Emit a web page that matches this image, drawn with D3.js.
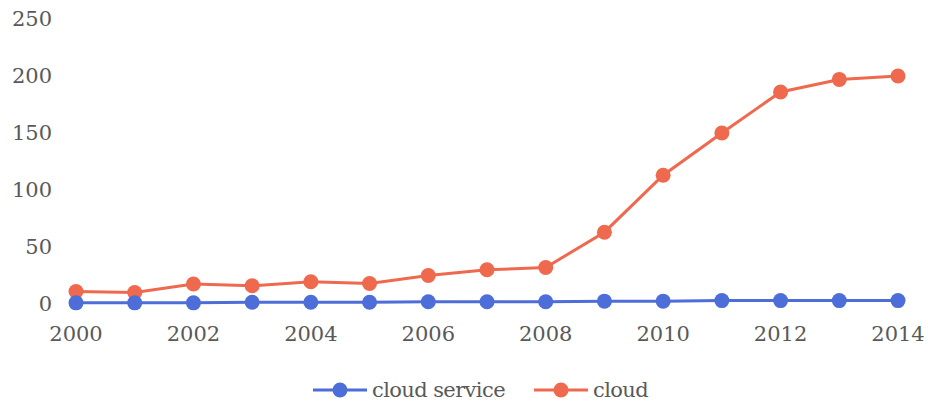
<!DOCTYPE html>
<html>
<head>
<meta charset="utf-8">
<script src="https://cdn.jsdelivr.net/npm/d3@7"></script>
<style>
  body { margin: 0; background: #fff; }
  .label { font-family: "DejaVu Serif", serif; font-size: 21px; fill: #595959; }
  .legend text { letter-spacing: -0.6px; }
</style>
</head>
<body>
<div id="chart"></div>
<script>
const years = [2000, 2001, 2002, 2003, 2004, 2005, 2006, 2007, 2008, 2009, 2010, 2011, 2012, 2013, 2014];
const cloudService = [1, 1, 1, 1.5, 1.5, 1.5, 2, 2, 2, 2.5, 2.5, 3, 3, 3, 3];
const cloud = [11, 10, 17.5, 16, 19.5, 18, 25, 30, 32, 63, 113, 150, 186, 197, 200];
const yTicks = [0, 50, 100, 150, 200, 250];
const xTicks = [2000, 2002, 2004, 2006, 2008, 2010, 2012, 2014];

const series = [
  { name: "cloud service", values: cloudService, color: "#4d6dd8" },
  { name: "cloud", values: cloud, color: "#ef694e" }
];

const width = 928;
const height = 405;

const svg = d3.select('#chart')
  .append('svg')
    .attr('width', width)
    .attr('height', height)
    .attr('viewBox', [0, 0, width, height]);

const x = d3.scaleLinear()
  .domain([2000, 2014])
  .range([76, 898]);

const y = d3.scaleLinear()
  .domain([0, 250])
  .range([304, 19]);

// y tick labels, no axis line
svg.selectAll('.label-y')
  .data(yTicks)
  .join('text')
    .attr('class', 'label label-y')
    .attr('text-anchor', 'end')
    .attr('x', 52)
    .attr('y', d => y(d))
    .attr('dy', '0.35em')
    .text(d => d);

svg.selectAll('.label-x')
  .data(xTicks)
  .join('text')
    .attr('class', 'label label-x')
    .attr('text-anchor', 'middle')
    .attr('x', d => x(d))
    .attr('y', 334)
    .attr('dy', '0.35em')
    .text(d => d);

const line = d3.line()
  .x((d, i) => x(years[i]))
  .y(d => y(d));

// draw cloud first so cloud service sits on top
[series[1], series[0]].forEach(s => {
  svg.append('path')
    .datum(s.values)
    .attr('fill', 'none')
    .attr('stroke', s.color)
    .attr('stroke-width', 3)
    .attr('d', line);

  svg.append('g')
    .selectAll('circle')
    .data(s.values)
    .join('circle')
      .attr('cx', (d, i) => x(years[i]))
      .attr('cy', d => y(d))
      .attr('r', 7.5)
      .attr('fill', s.color);
});

// legend
const legendX = [313, 534];
const legend = svg.selectAll('.legend')
  .data(series)
  .join('g')
    .attr('class', 'legend')
    .attr('transform', (d, i) => `translate(${legendX[i]},390)`);

legend.append('line')
  .attr('x1', 0)
  .attr('x2', 54)
  .attr('stroke', d => d.color)
  .attr('stroke-width', 3);

legend.append('circle')
  .attr('cx', 27)
  .attr('r', 7.5)
  .attr('fill', d => d.color);

legend.append('text')
  .attr('class', 'label')
  .attr('x', 59)
  .attr('dy', '0.32em')
  .text(d => d.name);
</script>
</body>
</html>
